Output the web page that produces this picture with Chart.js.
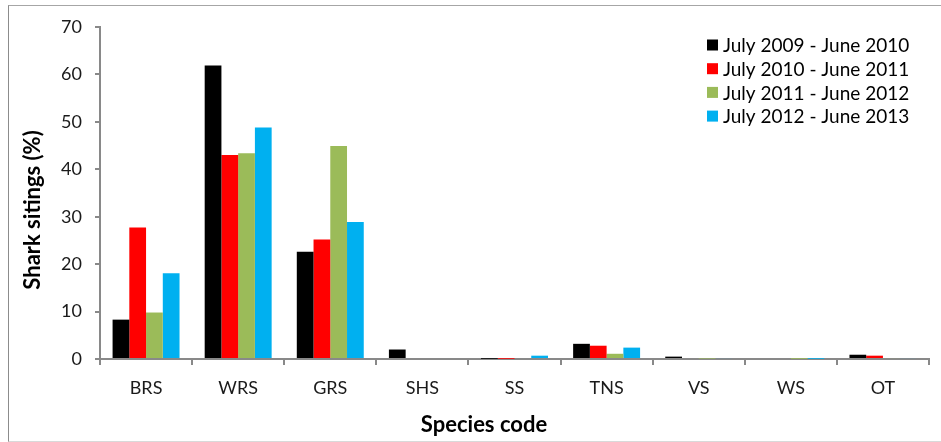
<!DOCTYPE html>
<html>
<head>
<meta charset="utf-8">
<script src="https://cdn.jsdelivr.net/npm/chart.js@4.4.1/dist/chart.umd.min.js"></script>
<style>
  html, body { margin: 0; padding: 0; background: #ffffff; }
  #wrap { position: relative; width: 941px; height: 442px; overflow: hidden; }
  #frame { position: absolute; left: 8px; top: 5px; width: 960px; height: 435px;
           border-left: 1px solid #8c8c8c; border-top: 1px solid #a6a6a6; border-bottom: 1px solid #d9d9d9; }
  canvas { position: absolute; left: 0; top: 0; }
</style>
</head>
<body>
<div id="wrap">
  <div id="frame"></div>
  <canvas id="c" width="941" height="442"></canvas>
</div>
<script>
// Species codes on the category axis
const species = ['BRS', 'WRS', 'GRS', 'SHS', 'SS', 'TNS', 'VS', 'WS', 'OT'];

// Sighting share (%) per species, one array per survey year
const labels = ['July 2009 - June 2010', 'July 2010 - June 2011', 'July 2011 - June 2012', 'July 2012 - June 2013'];
const y2009 = [8.3, 61.9, 22.6, 2.0, 0.05, 3.2, 0.5, 0.0, 0.9];
const y2010 = [27.7, 43.0, 25.2, 0.0, 0.05, 2.8, 0.0, 0.0, 0.7];
const y2011 = [9.8, 43.4, 44.9, 0.0, 0.0, 1.1, 0.1, 0.05, 0.2];
const y2012 = [18.1, 48.8, 28.9, 0.0, 0.7, 2.4, 0.2, 0.05, 0.2];
const colors = ['#000000', '#ff0000', '#9bbb59', '#00b0f0'];

const yTicks = [0, 10, 20, 30, 40, 50, 60, 70];
const xTitle = 'Species code';
const yTitle = 'Shark sitings (%)';

const FONT = 'Lato, "Open Sans", sans-serif';
const AXIS = '#898989';

// Legend inside the plot area (top right) plus the two axis titles
const annotations = {
  id: 'annotations',
  afterDraw(chart) {
    const ctx = chart.ctx;
    ctx.save();
    ctx.font = '19px ' + FONT;
    ctx.textBaseline = 'middle';
    ctx.textAlign = 'left';
    chart.data.datasets.forEach((ds, i) => {
      const y = 45 + i * 23.7;
      ctx.fillStyle = ds.backgroundColor;
      ctx.fillRect(707, y - 5.5, 11, 11);
      ctx.fillStyle = '#000000';
      ctx.fillText(ds.label, 723, y + 1);
    });

    ctx.font = 'bold 22px ' + FONT;
    ctx.textAlign = 'center';
    ctx.fillStyle = '#000000';
    ctx.fillText(xTitle, 484, 425);

    ctx.translate(33, 210);
    ctx.rotate(-Math.PI / 2);
    ctx.fillText(yTitle, 0, 0);
    ctx.restore();
  }
};

const series = [y2009, y2010, y2011, y2012];

new Chart(document.getElementById('c'), {
  type: 'bar',
  data: {
    labels: species,
    datasets: series.map((vals, i) => ({
      label: labels[i],
      data: vals,
      backgroundColor: colors[i],
      borderWidth: 0,
      categoryPercentage: 0.727,
      barPercentage: 1.0
    }))
  },
  options: {
    responsive: false,
    animation: false,
    layout: { padding: { top: 27, right: 12, bottom: 0, left: 0 } },
    plugins: {
      legend: { display: false },
      tooltip: { enabled: false }
    },
    scales: {
      x: {
        offset: true,
        grid: { display: true, drawOnChartArea: false, drawTicks: true, tickLength: 6, offset: true, color: AXIS, lineWidth: 2 },
        border: { display: true, color: AXIS, width: 2 },
        ticks: { color: '#1a1a1a', font: { family: FONT, size: 18 }, padding: 12, maxRotation: 0 },
        afterFit(scale) { scale.height = 83; }
      },
      y: {
        min: 0,
        max: 70,
        afterBuildTicks(scale) { scale.ticks = yTicks.map(v => ({ value: v })); },
        grid: { display: true, drawOnChartArea: false, drawTicks: true, tickLength: 5, color: AXIS, lineWidth: 2 },
        border: { display: true, color: AXIS, width: 2 },
        ticks: { color: '#1a1a1a', font: { family: FONT, size: 18 }, padding: 13 },
        afterFit(scale) { scale.width = 100; }
      }
    }
  },
  plugins: [annotations]
});
</script>
</body>
</html>
